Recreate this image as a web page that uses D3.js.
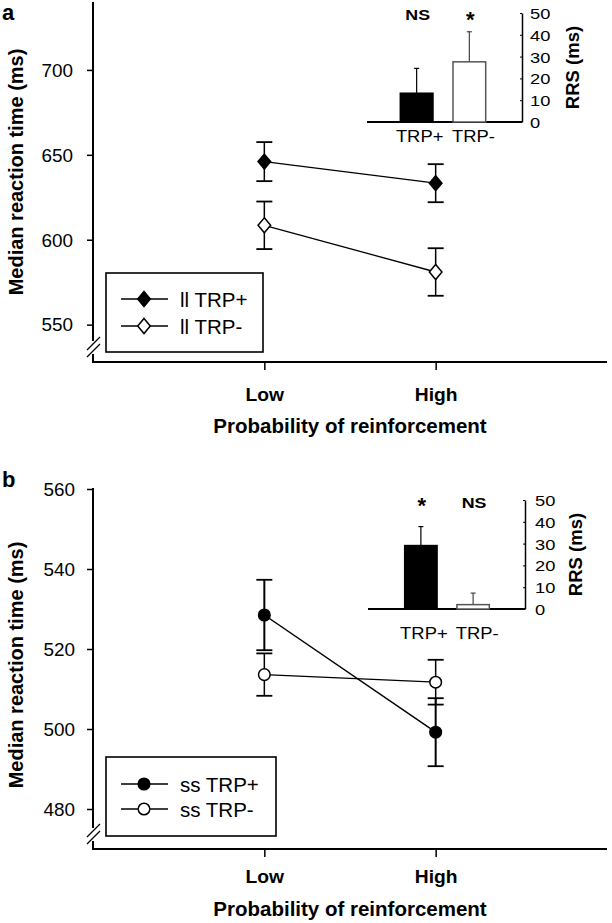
<!DOCTYPE html>
<html>
<head>
<meta charset="utf-8">
<script src="https://cdn.jsdelivr.net/npm/d3@7"></script>
<style>
body { margin: 0; background: #fff; }
svg { display: block; font-family: "Liberation Sans", Arial, sans-serif; }
</style>
</head>
<body>
<svg id="chart" width="612" height="923"></svg>
<script>
// ---------- data ----------
const categories = ["Low", "High"];
// Panel a
const aTicks = [550, 600, 650, 700];
const aPlusMean = [646, 633.3];
const aPlusErr = [11.5, 11.2];
const aMinusMean = [608.5, 581];
const aMinusErr = [14, 14];
const aLegend = ["ll TRP+", "ll TRP-"];
// Panel b
const bTicks = [480, 500, 520, 540, 560];
const bPlusMean = [528.5, 499.2];
const bPlusErr = [8.8, 8.5];
const bMinusMean = [513.6, 511.7];
const bMinusErr = [5.3, 5.6];
const bLegend = ["ss TRP+", "ss TRP-"];
// Insets (RRS)
const insetCats = ["TRP+", "TRP-"];
const insetTicks = [0, 10, 20, 30, 40, 50];
const aRRS = [13.2, 27.6];
const aRRSErr = [11.4, 13.8];
const aSig = ["NS", "*"];
const bRRS = [29.1, 2.0];
const bRRSErr = [8.7, 5.3];
const bSig = ["*", "NS"];

const svg = d3.select("#chart");

function stext(parent, x, y, str, o) {
  o = o || {};
  const t = parent.append("text")
    .attr("transform", `translate(${x},${y})${o.rotate ? ` rotate(${o.rotate})` : ""} scale(${o.sx || 1},1)`)
    .attr("font-size", o.size || 16)
    .attr("font-weight", o.weight || "normal")
    .attr("text-anchor", o.anchor || "start")
    .attr("fill", "#000")
    .text(str);
  return t;
}

function drawMarker(g, shape, cx, cy, fill) {
  if (shape === "diamond") {
    g.append("path").attr("d", "M0,-7.5L6.3,0L0,7.5L-6.3,0Z")
      .attr("transform", `translate(${cx},${cy})`)
      .attr("fill", fill).attr("stroke", "#000").attr("stroke-width", 1.5);
  } else {
    g.append("circle").attr("cx", cx).attr("cy", cy).attr("r", 5.8)
      .attr("fill", fill).attr("stroke", "#000").attr("stroke-width", 1.5);
  }
}

function panel(cfg) {
  const g = svg.append("g");
  const x = d3.scalePoint().domain(categories).range([93, 607]).padding(1);
  const y = d3.scaleLinear().domain(cfg.domain).range([cfg.bottom, cfg.top]);

  // panel letter
  stext(g, 2, cfg.letterY, cfg.letter, { size: 22, weight: "bold" });

  // y axis (with break)
  const yAxis = d3.axisLeft(y).tickValues(cfg.ticks).tickSize(6).tickSizeOuter(0);
  const ya = g.append("g").attr("transform", "translate(93,0)").call(yAxis);
  ya.select(".domain").remove();
  ya.selectAll("line").attr("stroke", "#000").attr("stroke-width", 1.5);
  ya.selectAll("text").attr("x", 0).attr("dy", "0.36em").attr("font-size", 17.5).attr("fill", "#000")
    .attr("text-anchor", "end")
    .attr("transform", `translate(${-cfg.tickLabelGap},0) scale(1.08,1)`);
  g.append("line").attr("x1", 93).attr("x2", 93).attr("y1", cfg.axisTop).attr("y2", cfg.bottom - 21)
    .attr("stroke", "#000").attr("stroke-width", 2);
  g.append("line").attr("x1", 93).attr("x2", 93).attr("y1", cfg.bottom - 8).attr("y2", cfg.bottom + 1)
    .attr("stroke", "#000").attr("stroke-width", 2);
  [0, 7].forEach(o => {
    g.append("line").attr("x1", 87).attr("y1", cfg.bottom - 12 + o)
      .attr("x2", 100).attr("y2", cfg.bottom - 25 + o)
      .attr("stroke", "#000").attr("stroke-width", 1.3);
  });

  // x axis
  const xAxis = d3.axisBottom(x).tickSize(8).tickSizeOuter(0);
  const xa = g.append("g").attr("transform", `translate(0,${cfg.bottom})`).call(xAxis);
  xa.select(".domain").attr("stroke", "#000").attr("stroke-width", 2).attr("d", "M93,0H607");
  xa.selectAll("line").attr("stroke", "#000").attr("stroke-width", 1.5);
  xa.selectAll("text").attr("y", 0).attr("dy", null).attr("font-size", 17.5).attr("font-weight", "bold")
    .attr("fill", "#000").attr("transform", `translate(0,${cfg.xLabelOff}) scale(1.1,1)`);

  stext(g, (x("Low") + x("High")) / 2, cfg.bottom + cfg.titleOff, "Probability of reinforcement",
    { size: 20.5, weight: "bold", anchor: "middle" });
  stext(g, 23, cfg.yLabelY, "Median reaction time (ms)",
    { size: 20, weight: "bold", anchor: "middle", rotate: -90 });

  // series
  const series = cfg.series;
  series.forEach(s => {
    const pts = categories.map((c, i) => ({ c, m: s.mean[i], e: s.err[i] }));
    g.append("path").datum(pts)
      .attr("d", d3.line().x(d => x(d.c)).y(d => y(d.m)))
      .attr("fill", "none").attr("stroke", "#000").attr("stroke-width", s.lw);
    pts.forEach(d => {
      const cx = x(d.c);
      g.append("line").attr("x1", cx).attr("x2", cx).attr("y1", y(d.m + d.e)).attr("y2", y(d.m - d.e))
        .attr("stroke", "#000").attr("stroke-width", s.elw);
      [d.m + d.e, d.m - d.e].forEach(v => {
        g.append("line").attr("x1", cx - 8).attr("x2", cx + 8).attr("y1", y(v)).attr("y2", y(v))
          .attr("stroke", "#000").attr("stroke-width", 1.8);
      });
    });
  });
  series.forEach(s => {
    categories.forEach((c, i) => drawMarker(g, cfg.shape, x(c), y(s.mean[i]), s.fill));
  });

  // legend
  const lg = g.append("g");
  lg.append("rect").attr("x", cfg.legend.x).attr("y", cfg.legend.y)
    .attr("width", cfg.legend.w).attr("height", cfg.legend.h)
    .attr("fill", "#fff").attr("stroke", "#000").attr("stroke-width", 1.6);
  series.forEach((s, i) => {
    const ly = cfg.legend.rows[i];
    lg.append("line").attr("x1", 121).attr("x2", 168).attr("y1", ly).attr("y2", ly)
      .attr("stroke", "#000").attr("stroke-width", 1.5);
    drawMarker(lg, cfg.shape, 144, ly, s.fill);
    stext(lg, 180, ly + 7.5, cfg.legendLabels[i], { size: 20.5 });
  });

  // inset bar chart
  const ins = cfg.inset;
  const iy = d3.scaleLinear().domain([0, 50]).range([ins.bottom, ins.top]);
  const ix = d3.scaleBand().domain(insetCats).range(ins.band).paddingInner(0.38).paddingOuter(0.3);
  g.append("line").attr("x1", ins.left).attr("x2", ins.axisX).attr("y1", ins.bottom).attr("y2", ins.bottom)
    .attr("stroke", "#000").attr("stroke-width", 1.8);
  const iaxis = d3.axisRight(iy).tickValues(insetTicks).tickSize(-2).tickSizeOuter(0);
  const ia = g.append("g").attr("transform", `translate(${ins.axisX},0)`).call(iaxis);
  ia.select(".domain").attr("stroke", "#000").attr("stroke-width", 1.5);
  ia.selectAll("line").attr("stroke", "#000");
  ia.selectAll("text").attr("x", 0).attr("dy", "0.36em").attr("font-size", 15.5).attr("fill", "#000")
    .attr("transform", `translate(${ins.labelGap},0) scale(1.18,1)`);
  stext(g, ins.axisX + 57, (ins.top + ins.bottom) / 2, "RRS (ms)",
    { size: 18.5, weight: "bold", anchor: "middle", rotate: -90 });
  insetCats.forEach((c, i) => {
    const bx = ix(c), bw = ix.bandwidth(), cx = bx + bw / 2;
    const v = ins.vals[i], e = ins.errs[i];
    g.append("line").attr("x1", cx).attr("x2", cx).attr("y1", iy(v)).attr("y2", iy(v + e))
      .attr("stroke", i === 0 ? "#000" : "#444").attr("stroke-width", 1.2);
    g.append("line").attr("x1", cx - 2.5).attr("x2", cx + 2.5).attr("y1", iy(v + e)).attr("y2", iy(v + e))
      .attr("stroke", i === 0 ? "#000" : "#444").attr("stroke-width", 1.2);
    g.append("rect").attr("x", bx).attr("y", iy(v)).attr("width", bw).attr("height", iy(0) - iy(v))
      .attr("fill", i === 0 ? "#000" : "#fff").attr("stroke", i === 0 ? "#000" : "#555").attr("stroke-width", 1.5);
    if (ins.sig[i] === "*") {
      stext(g, cx + 1, ins.top + ins.starOff, "*", { size: 22, weight: "bold", anchor: "middle" });
    } else {
      stext(g, cx + 1, ins.top + ins.nsOff, "NS", { size: 15.5, weight: "bold", anchor: "middle", sx: 1.15 });
    }
    stext(g, cx + (i === 0 ? 3 : 4), ins.bottom + ins.catOff, c, { size: 16, anchor: "middle", sx: 1.15 });
  });
}

panel({
  letter: "a", letterY: 20, domain: [528, 740], bottom: 362, top: 2, axisTop: 2,
  ticks: aTicks, tickLabelGap: 20, yLabelY: 172, shape: "diamond", xLabelOff: 38.5, titleOff: 70.5,
  series: [
    { mean: aPlusMean, err: aPlusErr, fill: "#000", lw: 1.3, elw: 1.5 },
    { mean: aMinusMean, err: aMinusErr, fill: "#fff", lw: 1.3, elw: 1.5 }
  ],
  legendLabels: aLegend,
  legend: { x: 106, y: 273, w: 157, h: 79, rows: [299, 326] },
  inset: { left: 367, axisX: 522, top: 13, bottom: 122, band: [384.5, 501.5], labelGap: 8,
           vals: aRRS, errs: aRRSErr, sig: aSig, starOff: 14, nsOff: 6.5, catOff: 20 }
});

panel({
  letter: "b", letterY: 487, domain: [470, 560], bottom: 849, top: 489, axisTop: 488,
  ticks: bTicks, tickLabelGap: 18, yLabelY: 665, shape: "circle", xLabelOff: 34, titleOff: 67,
  series: [
    { mean: bPlusMean, err: bPlusErr, fill: "#000", lw: 1.5, elw: 2 },
    { mean: bMinusMean, err: bMinusErr, fill: "#fff", lw: 1.2, elw: 1.5 }
  ],
  legendLabels: bLegend,
  legend: { x: 106, y: 757, w: 170, h: 79, rows: [784, 809] },
  inset: { left: 368, axisX: 525, top: 500, bottom: 609, band: [389, 505], labelGap: 10,
           vals: bRRS, errs: bRRSErr, sig: bSig, starOff: 13, nsOff: 8, catOff: 30 }
});
</script>
</body>
</html>
